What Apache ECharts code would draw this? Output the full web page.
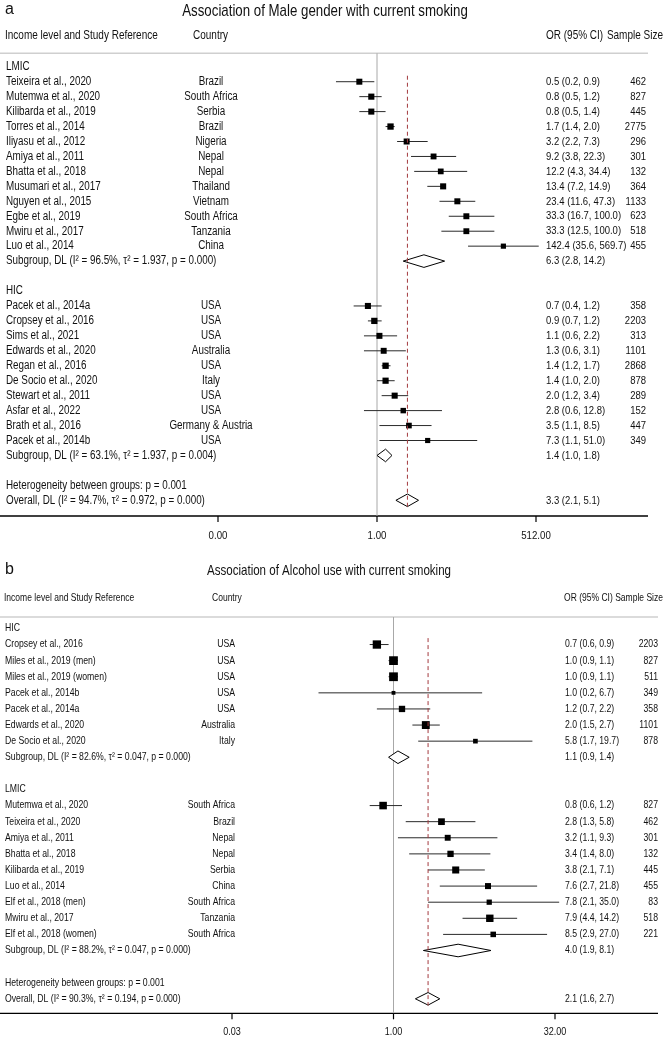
<!DOCTYPE html>
<html>
<head>
<meta charset="utf-8">
<script src="https://cdn.jsdelivr.net/npm/echarts@6.0.0/dist/echarts.min.js"></script>
<style>
  html, body { margin: 0; padding: 0; background: #fff; }
  #chart { width: 664px; height: 1038px; }
</style>
</head>
<body>
<div id="chart"></div>
<script>
// ---- panel a: male gender ----
const aGroups = ['LMIC', 'HIC'];
const aGroupOf = [0, 0, 0, 0, 0, 0, 0, 0, 0, 0, 0, 0, 1, 1, 1, 1, 1, 1, 1, 1, 1, 1];
const aStudies = [
  'Teixeira et al., 2020', 'Mutemwa et al., 2020', 'Kilibarda et al., 2019', 'Torres et al., 2014',
  'Iliyasu et al., 2012', 'Amiya et al., 2011', 'Bhatta et al., 2018', 'Musumari et al., 2017',
  'Nguyen et al., 2015', 'Egbe et al., 2019', 'Mwiru et al., 2017', 'Luo et al., 2014',
  'Pacek et al., 2014a', 'Cropsey et al., 2016', 'Sims et al., 2021', 'Edwards et al., 2020',
  'Regan et al., 2016', 'De Socio et al., 2020', 'Stewart et al., 2011', 'Asfar et al., 2022',
  'Brath et al., 2016', 'Pacek et al., 2014b'
];
const aCountries = [
  'Brazil', 'South Africa', 'Serbia', 'Brazil', 'Nigeria', 'Nepal', 'Nepal', 'Thailand',
  'Vietnam', 'South Africa', 'Tanzania', 'China',
  'USA', 'USA', 'USA', 'Australia', 'USA', 'Italy', 'USA', 'USA', 'Germany & Austria', 'USA'
];
const aOr = [0.5, 0.8, 0.8, 1.7, 3.2, 9.2, 12.2, 13.4, 23.4, 33.3, 33.3, 142.4,
  0.7, 0.9, 1.1, 1.3, 1.4, 1.4, 2.0, 2.8, 3.5, 7.3];
const aLo = [0.2, 0.5, 0.5, 1.4, 2.2, 3.8, 4.3, 7.2, 11.6, 16.7, 12.5, 35.6,
  0.4, 0.7, 0.6, 0.6, 1.2, 1.0, 1.2, 0.6, 1.1, 1.1];
const aHi = [0.9, 1.2, 1.4, 2.0, 7.3, 22.3, 34.4, 14.9, 47.3, 100.0, 100.0, 569.7,
  1.2, 1.2, 2.2, 3.1, 1.7, 2.0, 3.4, 12.8, 8.5, 51.0];
const aN = [462, 827, 445, 2775, 296, 301, 132, 364, 1133, 623, 518, 455,
  358, 2203, 313, 1101, 2868, 878, 289, 152, 447, 349];
const aWeight = [4.6, 4.8, 4.7, 5.1, 4.6, 4.4, 4.2, 4.7, 4.6, 4.5, 4.4, 3.4,
  4.7, 5.0, 4.6, 4.5, 5.1, 4.9, 4.7, 3.8, 4.1, 3.4];
const aSubText = [
  'Subgroup, DL (I\u00b2 = 96.5%, \u03c4\u00b2 = 1.937, p = 0.000)',
  'Subgroup, DL (I\u00b2 = 63.1%, \u03c4\u00b2 = 1.937, p = 0.004)'
];
const aSubOr = [6.3, 1.4];
const aSubLo = [2.8, 1.0];
const aSubHi = [14.2, 1.8];
const aHet = 'Heterogeneity between groups: p = 0.001';
const aOverallText = 'Overall, DL (I\u00b2 = 94.7%, \u03c4\u00b2 = 0.972, p = 0.000)';
const aOverall = [3.3, 2.1, 5.1];
const aTicks = [1 / 512, 1, 512];
const aTickLabels = ['0.00', '1.00', '512.00'];

// ---- panel b: alcohol use ----
const bGroups = ['HIC', 'LMIC'];
const bGroupOf = [0, 0, 0, 0, 0, 0, 0, 1, 1, 1, 1, 1, 1, 1, 1, 1];
const bStudies = [
  'Cropsey et al., 2016', 'Miles et al., 2019 (men)', 'Miles et al., 2019 (women)', 'Pacek et al., 2014b',
  'Pacek et al., 2014a', 'Edwards et al., 2020', 'De Socio et al., 2020',
  'Mutemwa et al., 2020', 'Teixeira et al., 2020', 'Amiya et al., 2011', 'Bhatta et al., 2018',
  'Kilibarda et al., 2019', 'Luo et al., 2014', 'Elf et al., 2018 (men)', 'Mwiru et al., 2017',
  'Elf et al., 2018 (women)'
];
const bCountries = [
  'USA', 'USA', 'USA', 'USA', 'USA', 'Australia', 'Italy',
  'South Africa', 'Brazil', 'Nepal', 'Nepal', 'Serbia', 'China', 'South Africa', 'Tanzania', 'South Africa'
];
const bOr = [0.7, 1.0, 1.0, 1.0, 1.2, 2.0, 5.8, 0.8, 2.8, 3.2, 3.4, 3.8, 7.6, 7.8, 7.9, 8.5];
const bLo = [0.6, 0.9, 0.9, 0.2, 0.7, 1.5, 1.7, 0.6, 1.3, 1.1, 1.4, 2.1, 2.7, 2.1, 4.4, 2.9];
const bHi = [0.9, 1.1, 1.1, 6.7, 2.2, 2.7, 19.7, 1.2, 5.8, 9.3, 8.0, 7.1, 21.8, 35.0, 14.2, 27.0];
const bN = [2203, 827, 511, 349, 358, 1101, 878, 827, 462, 301, 132, 445, 455, 83, 518, 221];
const bWeight = [9.5, 10.5, 10.5, 2.0, 5.5, 8.5, 3.0, 7.8, 6.2, 4.8, 5.5, 6.8, 5.0, 3.8, 7.5, 4.2];
const bSubText = [
  'Subgroup, DL (I\u00b2 = 82.6%, \u03c4\u00b2 = 0.047, p = 0.000)',
  'Subgroup, DL (I\u00b2 = 88.2%, \u03c4\u00b2 = 0.047, p = 0.000)'
];
const bSubOr = [1.1, 4.0];
const bSubLo = [0.9, 1.9];
const bSubHi = [1.4, 8.1];
const bHet = 'Heterogeneity between groups: p = 0.001';
const bOverallText = 'Overall, DL (I\u00b2 = 90.3%, \u03c4\u00b2 = 0.194, p = 0.000)';
const bOverall = [2.1, 1.6, 2.7];
const bTicks = [1 / 32, 1, 32];
const bTickLabels = ['0.03', '1.00', '32.00'];

// no narrow font installed, so Liberation Sans is squeezed horizontally
const FONT = '"Liberation Sans", Arial, sans-serif';
const NARROW = 0.82;
const INK = '#111';

const fmt = (o, l, h) => `${o.toFixed(1)} (${l.toFixed(1)}, ${h.toFixed(1)})`;

// lays the rows out: group header, studies, subgroup, gap ... then heterogeneity + overall
function buildPanel(p) {
  const text = [], studies = [], diamonds = [];
  let row = 0;
  p.groups.forEach((g, gi) => {
    text.push({ row, label: g });
    row++;
    p.groupOf.forEach((gg, i) => {
      if (gg !== gi) return;
      text.push({ row, label: p.studies[i], country: p.countries[i], ci: fmt(p.or[i], p.lo[i], p.hi[i]), n: String(p.n[i]) });
      studies.push([p.or[i], p.lo[i], p.hi[i], row, p.weight[i]]);
      row++;
    });
    text.push({ row, label: p.subText[gi], ci: fmt(p.subOr[gi], p.subLo[gi], p.subHi[gi]) });
    diamonds.push([p.subOr[gi], p.subLo[gi], p.subHi[gi], row]);
    row += 2;
  });
  text.push({ row, label: p.het });
  row++;
  text.push({ row, label: p.overallText, ci: fmt(p.overall[0], p.overall[1], p.overall[2]) });
  diamonds.push([p.overall[0], p.overall[1], p.overall[2], row]);
  return { text, studies, diamonds, last: row };
}

const panelA = buildPanel({
  groups: aGroups, groupOf: aGroupOf, studies: aStudies, countries: aCountries,
  or: aOr, lo: aLo, hi: aHi, n: aN, weight: aWeight,
  subText: aSubText, subOr: aSubOr, subLo: aSubLo, subHi: aSubHi,
  het: aHet, overallText: aOverallText, overall: aOverall
});
const panelB = buildPanel({
  groups: bGroups, groupOf: bGroupOf, studies: bStudies, countries: bCountries,
  or: bOr, lo: bLo, hi: bHi, n: bN, weight: bWeight,
  subText: bSubText, subOr: bSubOr, subLo: bSubLo, subHi: bSubHi,
  het: bHet, overallText: bOverallText, overall: bOverall
});

const layoutA = {
  left: 218, width: 318, top: 53.3, height: 462.7, yMin: -0.9, yMax: 30.05,
  font: 12, ciFont: 11.6, tickFont: 11.8, labelX: 6, countryX: 211, countryAlign: 'center', ciX: 546, nX: 646,
  sq: 2.8, dashFrom: 0.6, tickLabelGap: 20, overall: aOverall[0],
  ticks: aTicks, tickLabels: aTickLabels, panel: panelA
};
const layoutB = {
  left: 232, width: 323, top: 617, height: 396.3, yMin: -0.71, yMax: 23.9,
  font: 10.6, ciFont: 10.6, tickFont: 11, labelX: 5, countryX: 235, countryAlign: 'right', ciX: 565, nX: 658,
  sq: 2.7, dashFrom: 0.6, tickLabelGap: 18.5, overall: bOverall[0],
  ticks: bTicks, tickLabels: bTickLabels, panel: panelB
};

function txt(text, x, y, align, size, sx) {
  return {
    type: 'text', x, y, scaleX: sx == null ? NARROW : sx,
    style: { text, x: 0, y: 0, fill: INK, font: `${size}px ${FONT}`, textAlign: align, textVerticalAlign: 'middle' }
  };
}

function panelSeries(L, idx) {
  const P = L.panel;
  const base = { type: 'custom', xAxisIndex: idx, yAxisIndex: idx, clip: false, silent: true };
  return [
    {
      ...base, z: 1,
      data: [[1, L.yMin, L.yMax]],
      encode: { x: 0, y: [1, 2] },
      renderItem: (params, api) => {
        const a = api.coord([1, api.value(1)]);
        const b = api.coord([1, api.value(2)]);
        return { type: 'line', shape: { x1: a[0], y1: a[1], x2: b[0], y2: b[1] }, style: { stroke: '#a8a8a8', lineWidth: 1 } };
      }
    },
    {
      ...base, z: 2,
      data: P.studies,
      encode: { x: [0, 1, 2], y: 3 },
      renderItem: (params, api) => {
        const row = api.value(3);
        const c = api.coord([api.value(0), row]);
        const l = api.coord([api.value(1), row]);
        const h = api.coord([api.value(2), row]);
        const s = L.sq * Math.sqrt(api.value(4));
        return {
          type: 'group',
          children: [
            { type: 'line', shape: { x1: l[0], y1: c[1], x2: h[0], y2: c[1] }, style: { stroke: '#2a2a2a', lineWidth: 1 } },
            { type: 'rect', shape: { x: c[0] - s / 2, y: c[1] - s / 2, width: s, height: s }, style: { fill: '#000' } }
          ]
        };
      }
    },
    {
      ...base, z: 2,
      data: P.diamonds,
      encode: { x: [0, 1, 2], y: 3 },
      renderItem: (params, api) => {
        const row = api.value(3);
        const c = api.coord([api.value(0), row]);
        const l = api.coord([api.value(1), row]);
        const h = api.coord([api.value(2), row]);
        const d = 6.3;
        return {
          type: 'polygon',
          shape: { points: [[l[0], c[1]], [c[0], c[1] - d], [h[0], c[1]], [c[0], c[1] + d]] },
          style: { fill: '#fff', stroke: '#000', lineWidth: 1 }
        };
      }
    },
    {
      ...base, z: 3,
      data: [[L.overall, L.dashFrom, P.last + 0.42]],
      encode: { x: 0, y: [1, 2] },
      renderItem: (params, api) => {
        const a = api.coord([api.value(0), api.value(1)]);
        const b = api.coord([api.value(0), api.value(2)]);
        return { type: 'line', shape: { x1: a[0], y1: a[1], x2: b[0], y2: b[1] }, style: { stroke: '#a33a3e', lineWidth: 1, lineDash: [4, 3] } };
      }
    },
    {
      ...base, z: 4,
      data: P.text.map((r, i) => [1, r.row, i]),
      encode: { x: 0, y: 1 },
      renderItem: (params, api) => {
        const r = P.text[api.value(2)];
        const y = api.coord([1, api.value(1)])[1];
        const children = [txt(r.label, L.labelX, y, 'left', L.font)];
        if (r.country) children.push(txt(r.country, L.countryX, y, L.countryAlign, L.font));
        if (r.ci) children.push(txt(r.ci, L.ciX, y, 'left', L.ciFont));
        if (r.n) children.push(txt(r.n, L.nX, y, 'right', L.ciFont));
        return { type: 'group', children };
      }
    },
    {
      ...base, z: 4,
      data: L.ticks.map((v, i) => [v, L.yMax, i]),
      encode: { x: 0, y: 1 },
      renderItem: (params, api) => {
        const p = api.coord([api.value(0), api.value(1)]);
        return {
          type: 'group',
          children: [
            { type: 'line', shape: { x1: p[0], y1: p[1], x2: p[0], y2: p[1] + 6 }, style: { stroke: '#000', lineWidth: 1.2 } },
            txt(L.tickLabels[api.value(2)], p[0], p[1] + L.tickLabelGap, 'center', L.tickFont)
          ]
        };
      }
    }
  ];
}

const hidden = { axisLine: { show: false }, axisTick: { show: false }, axisLabel: { show: false }, splitLine: { show: false } };
const chart = echarts.init(document.getElementById('chart'), null, { renderer: 'canvas' });

chart.setOption({
  animation: false,
  backgroundColor: '#fff',
  grid: [
    { left: layoutA.left, width: layoutA.width, top: layoutA.top, height: layoutA.height, containLabel: false, outerBoundsMode: 'none' },
    { left: layoutB.left, width: layoutB.width, top: layoutB.top, height: layoutB.height, containLabel: false, outerBoundsMode: 'none' }
  ],
  xAxis: [
    { type: 'log', logBase: 2, gridIndex: 0, min: aTicks[0], max: aTicks[2], ...hidden },
    { type: 'log', logBase: 2, gridIndex: 1, min: bTicks[0], max: bTicks[2], ...hidden }
  ],
  yAxis: [
    { type: 'value', inverse: true, gridIndex: 0, min: layoutA.yMin, max: layoutA.yMax, ...hidden },
    { type: 'value', inverse: true, gridIndex: 1, min: layoutB.yMin, max: layoutB.yMax, ...hidden }
  ],
  graphic: {
    elements: [
      txt('a', 5, 10, 'left', 16, 1),
      txt('Association of Male gender with current smoking', 325, 11.5, 'center', 16.2),
      txt('Income level and Study Reference', 5, 36, 'left', 12.2),
      txt('Country', 193, 36, 'left', 12.2),
      txt('OR (95% CI)', 546, 36, 'left', 12.2),
      txt('Sample Size', 663, 36, 'right', 12.2),
      { type: 'line', shape: { x1: 0, y1: 53.3, x2: 648, y2: 53.3 }, style: { stroke: '#cfcfcf', lineWidth: 1.6 } },
      { type: 'line', shape: { x1: 0, y1: 516, x2: 648, y2: 516 }, style: { stroke: '#000', lineWidth: 1.3 } },
      txt('b', 5, 570, 'left', 16, 1),
      txt('Association of Alcohol use with current smoking', 329, 571, 'center', 14.1),
      txt('Income level and Study Reference', 4, 598, 'left', 10.4),
      txt('Country', 212, 598, 'left', 10.4),
      txt('OR (95% CI) Sample Size', 663, 598, 'right', 10.4),
      { type: 'line', shape: { x1: 0, y1: 617, x2: 658, y2: 617 }, style: { stroke: '#cfcfcf', lineWidth: 1.6 } },
      { type: 'line', shape: { x1: 0, y1: 1013.3, x2: 658, y2: 1013.3 }, style: { stroke: '#000', lineWidth: 1.3 } }
    ]
  },
  series: [...panelSeries(layoutA, 0), ...panelSeries(layoutB, 1)]
});
</script>
</body>
</html>
